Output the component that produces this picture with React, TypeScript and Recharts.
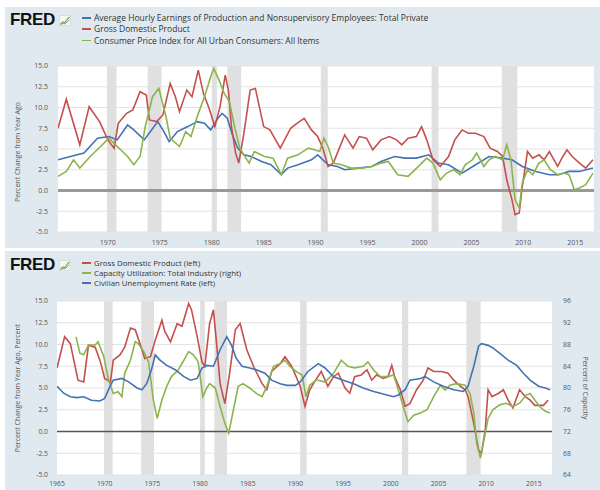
import React from 'react';
import { LineChart, Line, XAxis, YAxis, CartesianGrid, ReferenceArea, ReferenceLine } from 'recharts';

const FONT = '"Open Sans", "DejaVu Sans", sans-serif';

// Recessions (fractional years)
const recessionStart = [1969.92, 1973.83, 1980.0, 1981.5, 1990.5, 2001.17, 2007.92];
const recessionEnd = [1970.83, 1975.17, 1980.5, 1982.83, 1991.17, 2001.83, 2009.42];

const topTicksX = [1970, 1975, 1980, 1985, 1990, 1995, 2000, 2005, 2010, 2015];
const bottomTicksX = [1965, 1970, 1975, 1980, 1985, 1990, 1995, 2000, 2005, 2010, 2015];
const leftTicks = [-5, -2.5, 0, 2.5, 5, 7.5, 10, 12.5, 15];
const rightTicks = [64, 68, 72, 76, 80, 84, 88, 92, 96];

const topLegend = [
  'Average Hourly Earnings of Production and Nonsupervisory Employees: Total Private',
  'Gross Domestic Product',
  'Consumer Price Index for All Urban Consumers: All Items',
];
const bottomLegend = [
  'Gross Domestic Product (left)',
  'Capacity Utilization: Total Industry (right)',
  'Civilian Unemployment Rate (left)',
];

// ---- Top chart: percent change from year ago ----
const topEarnYears = [1965.2, 1966.4, 1967.7, 1969.0, 1970.1, 1970.9, 1971.9, 1972.5, 1973.5, 1974.1, 1974.8, 1975.4, 1975.9, 1976.7, 1977.7, 1978.6, 1979.3, 1979.9, 1980.6, 1981.0, 1981.5, 1982.0, 1982.5, 1983.1, 1983.8, 1984.8, 1985.7, 1986.7, 1987.3, 1988.3, 1989.6, 1990.2, 1991.2, 1992.1, 1992.8, 1994.1, 1995.4, 1996.3, 1997.6, 1998.6, 1999.7, 2000.9, 2001.8, 2002.8, 2004.1, 2005.4, 2006.7, 2008.0, 2008.9, 2009.9, 2011.2, 2012.5, 2013.4, 2014.4, 2015.4, 2016.7];
const topEarnVals = [3.7, 4.1, 4.5, 6.3, 6.5, 6.1, 7.9, 7.3, 6.1, 7.1, 8.3, 7.1, 5.9, 7.1, 7.7, 8.3, 8.1, 7.3, 8.7, 9.3, 8.7, 6.7, 5.1, 4.3, 4.1, 3.5, 3.1, 1.9, 2.7, 3.1, 3.7, 4.3, 3.1, 2.9, 2.5, 2.7, 2.9, 3.5, 4.1, 3.9, 3.9, 4.3, 3.3, 3.1, 2.1, 3.1, 4.1, 3.9, 3.7, 2.9, 2.3, 1.9, 1.9, 2.3, 2.3, 2.7];

const topGdpYears = [1965.2, 1966.0, 1967.3, 1968.2, 1969.2, 1970.0, 1970.6, 1971.0, 1971.8, 1972.4, 1973.1, 1973.7, 1974.0, 1974.7, 1975.3, 1976.0, 1976.5, 1976.9, 1977.6, 1978.1, 1978.7, 1979.2, 1979.8, 1980.3, 1980.8, 1981.3, 1981.6, 1981.9, 1982.3, 1982.6, 1983.1, 1983.7, 1984.2, 1985.0, 1985.6, 1986.6, 1987.6, 1988.2, 1988.9, 1989.6, 1990.2, 1990.7, 1991.2, 1991.7, 1992.8, 1993.6, 1994.2, 1994.9, 1995.5, 1996.3, 1997.1, 1997.8, 1998.3, 1998.9, 1999.7, 2000.2, 2000.7, 2001.3, 2002.0, 2002.8, 2003.4, 2004.1, 2004.7, 2005.4, 2006.2, 2006.8, 2007.5, 2008.0, 2008.4, 2008.9, 2009.2, 2009.6, 2009.9, 2010.4, 2010.9, 2011.5, 2012.0, 2012.5, 2013.3, 2013.8, 2014.2, 2014.7, 2015.4, 2016.0, 2016.7];
const topGdpVals = [7.5, 11.0, 5.5, 10.1, 8.3, 6.1, 5.1, 8.1, 9.3, 9.7, 11.9, 11.5, 8.5, 8.3, 9.1, 12.9, 11.3, 9.5, 12.1, 11.3, 14.5, 11.7, 9.7, 7.7, 10.1, 13.9, 12.1, 7.7, 4.5, 3.3, 6.9, 12.1, 12.3, 7.7, 7.3, 5.1, 7.5, 8.1, 8.7, 7.3, 6.5, 5.1, 2.9, 3.3, 6.7, 5.1, 6.5, 6.3, 4.9, 6.1, 6.5, 6.1, 5.5, 6.3, 6.5, 7.7, 6.1, 3.7, 2.9, 4.1, 6.1, 7.3, 6.9, 6.9, 6.5, 5.1, 4.7, 4.1, 1.3, -1.1, -2.9, -2.7, 0.5, 4.7, 3.9, 4.3, 3.7, 4.7, 2.9, 4.1, 4.9, 4.1, 3.3, 2.7, 3.7];

const topCpiYears = [1965.2, 1966.0, 1966.7, 1967.3, 1968.3, 1969.3, 1970.1, 1970.9, 1971.9, 1972.5, 1973.1, 1973.6, 1974.3, 1974.9, 1975.6, 1976.0, 1976.9, 1977.5, 1978.0, 1978.6, 1979.3, 1979.9, 1980.2, 1980.7, 1981.2, 1981.7, 1982.2, 1982.7, 1983.1, 1983.6, 1984.1, 1985.1, 1985.9, 1986.7, 1987.3, 1988.3, 1989.3, 1989.9, 1990.4, 1990.8, 1991.2, 1991.7, 1992.5, 1993.4, 1994.4, 1995.4, 1996.3, 1997.0, 1997.9, 1998.9, 1999.9, 2000.7, 2001.3, 2002.0, 2002.6, 2003.3, 2003.9, 2004.4, 2005.1, 2005.5, 2006.2, 2006.7, 2007.3, 2008.0, 2008.4, 2008.8, 2009.2, 2009.6, 2009.9, 2010.4, 2010.9, 2011.5, 2012.0, 2012.6, 2013.3, 2013.9, 2014.4, 2014.9, 2015.4, 2016.0, 2016.7];
const topCpiVals = [1.7, 2.3, 3.7, 2.7, 4.1, 5.3, 6.3, 5.3, 4.1, 3.1, 4.1, 7.7, 11.3, 12.3, 8.9, 6.3, 5.3, 7.1, 6.5, 8.9, 11.3, 13.7, 14.7, 13.3, 11.7, 10.7, 7.7, 5.1, 4.3, 3.3, 4.7, 4.1, 3.9, 1.9, 3.9, 4.3, 5.1, 4.9, 4.7, 6.3, 5.3, 3.3, 3.1, 2.7, 2.7, 2.9, 3.3, 3.5, 1.9, 1.7, 2.9, 3.9, 3.3, 1.3, 2.1, 2.5, 1.9, 3.1, 3.7, 4.5, 2.9, 3.7, 4.1, 3.7, 5.5, 3.7, -1.1, -2.1, 0.9, 2.5, 1.9, 3.3, 3.7, 2.5, 1.9, 2.1, 1.9, 0.1, 0.3, 0.7, 2.1];

// ---- Bottom chart ----
const botGdpYears = [1965.0, 1965.8, 1966.4, 1967.2, 1967.8, 1968.3, 1969.0, 1969.5, 1970.0, 1970.6, 1970.9, 1971.6, 1972.1, 1972.7, 1973.2, 1973.7, 1974.2, 1974.8, 1975.3, 1976.0, 1976.3, 1976.9, 1977.6, 1978.1, 1978.8, 1979.1, 1979.7, 1980.2, 1980.5, 1981.0, 1981.4, 1981.7, 1982.1, 1982.6, 1983.1, 1983.7, 1984.2, 1984.9, 1985.6, 1986.5, 1987.0, 1987.5, 1988.4, 1988.9, 1989.6, 1990.5, 1991.0, 1991.5, 1992.0, 1992.7, 1993.4, 1994.0, 1994.5, 1995.2, 1995.7, 1996.2, 1996.9, 1997.5, 1998.0, 1998.5, 1999.2, 1999.7, 2000.1, 2000.4, 2001.0, 2001.5, 2002.0, 2002.7, 2003.4, 2003.9, 2004.5, 2005.3, 2006.0, 2006.6, 2007.3, 2007.8, 2008.1, 2008.7, 2009.2, 2009.5, 2009.9, 2010.2, 2010.6, 2011.3, 2011.8, 2012.3, 2012.8, 2013.5, 2014.1, 2014.6, 2015.1, 2016.0, 2016.5];
const botGdpVals = [7.3, 10.9, 10.1, 5.9, 5.7, 9.9, 9.7, 8.2, 6.1, 5.7, 8.2, 8.8, 9.7, 11.9, 11.7, 10.1, 8.4, 8.6, 10.5, 12.8, 11.5, 10.3, 12.4, 12.1, 14.7, 14.0, 10.9, 8.0, 7.5, 12.4, 14.0, 10.5, 5.5, 3.2, 6.7, 11.7, 12.4, 9.4, 7.5, 5.5, 4.8, 6.9, 7.8, 8.6, 7.5, 5.2, 2.9, 4.8, 5.7, 6.9, 5.2, 6.3, 6.7, 5.0, 4.4, 6.3, 6.5, 7.1, 5.9, 6.5, 6.1, 6.3, 7.6, 6.3, 4.8, 2.9, 3.2, 4.8, 5.9, 7.3, 6.9, 6.9, 6.7, 5.9, 5.2, 4.8, 4.0, 0.9, -2.1, -2.5, 0.2, 4.8, 4.0, 4.4, 4.8, 3.6, 2.7, 4.8, 4.0, 3.6, 3.0, 3.0, 3.6];

const unempYears = [1965.0, 1965.7, 1966.4, 1967.1, 1967.8, 1968.6, 1969.5, 1970.0, 1970.6, 1970.9, 1971.8, 1972.5, 1973.4, 1973.9, 1974.4, 1974.9, 1975.3, 1975.8, 1976.5, 1977.4, 1978.3, 1979.0, 1979.7, 1980.2, 1980.7, 1981.4, 1982.1, 1982.8, 1983.3, 1983.8, 1984.4, 1985.2, 1985.9, 1986.8, 1987.5, 1988.4, 1989.1, 1990.0, 1990.5, 1991.3, 1992.4, 1993.1, 1994.0, 1995.0, 1996.1, 1997.1, 1998.2, 1999.2, 2000.3, 2000.8, 2001.5, 2002.0, 2003.1, 2003.6, 2004.5, 2005.5, 2006.6, 2007.6, 2008.1, 2008.7, 2009.2, 2009.5, 2010.2, 2010.7, 2011.4, 2012.3, 2013.2, 2013.9, 2014.6, 2015.5, 2016.2, 2016.7];
const unempVals = [5.2, 4.4, 4.0, 3.9, 4.0, 3.6, 3.5, 3.8, 5.3, 5.9, 6.1, 5.7, 5.0, 4.8, 5.5, 7.1, 8.8, 8.2, 7.6, 7.1, 6.3, 5.9, 6.1, 7.3, 7.6, 7.5, 9.4, 10.9, 9.9, 8.4, 7.5, 7.3, 7.1, 6.7, 5.9, 5.5, 5.3, 5.3, 5.7, 6.9, 7.8, 7.3, 6.3, 5.9, 5.5, 5.0, 4.6, 4.3, 4.0, 4.2, 4.8, 5.9, 6.1, 6.3, 5.7, 5.2, 4.8, 4.6, 5.2, 7.5, 9.8, 10.1, 9.9, 9.6, 9.0, 8.2, 7.6, 6.7, 5.9, 5.2, 5.0, 4.8];

const capUtilYears = [1967.0, 1967.4, 1967.8, 1968.3, 1969.0, 1969.3, 1969.9, 1970.4, 1970.9, 1971.4, 1971.8, 1972.1, 1972.7, 1973.2, 1973.5, 1974.1, 1974.6, 1975.1, 1975.5, 1976.0, 1976.5, 1977.0, 1977.7, 1978.3, 1978.8, 1979.3, 1979.8, 1980.3, 1980.7, 1981.0, 1981.6, 1982.1, 1982.6, 1983.0, 1983.5, 1984.0, 1984.5, 1985.2, 1985.9, 1986.5, 1987.0, 1987.7, 1988.4, 1988.9, 1989.4, 1990.1, 1990.7, 1991.1, 1991.5, 1992.2, 1993.1, 1994.0, 1994.8, 1995.5, 1996.2, 1997.1, 1997.6, 1998.2, 1998.9, 1999.7, 2000.3, 2000.8, 2001.3, 2001.8, 2002.4, 2003.1, 2003.8, 2004.5, 2005.2, 2005.7, 2006.2, 2006.9, 2007.8, 2008.3, 2008.7, 2009.0, 2009.4, 2009.7, 2010.2, 2010.7, 2011.4, 2012.1, 2012.8, 2013.5, 2014.2, 2014.6, 2015.1, 2015.6, 2016.2, 2016.7];
const capUtilVals = [89.4, 86.4, 86.1, 87.9, 87.9, 88.5, 85.8, 81.5, 79.0, 79.3, 78.4, 82.7, 85.1, 88.5, 88.2, 86.7, 84.8, 77.8, 74.4, 77.8, 80.3, 82.1, 83.3, 85.1, 86.7, 86.1, 84.8, 78.4, 80.0, 80.8, 80.0, 76.6, 73.5, 71.7, 76.0, 80.3, 80.8, 80.0, 79.0, 78.4, 80.3, 84.0, 84.5, 85.1, 84.0, 83.0, 82.4, 78.4, 80.5, 81.5, 81.1, 82.7, 85.1, 84.0, 83.7, 84.0, 84.8, 83.3, 82.1, 82.1, 82.4, 79.6, 76.6, 73.8, 75.0, 75.4, 76.0, 78.4, 80.5, 79.6, 80.5, 80.8, 80.5, 79.0, 75.4, 69.8, 67.1, 69.8, 74.4, 76.0, 76.9, 77.2, 76.6, 77.2, 78.7, 79.0, 77.8, 76.6, 75.7, 75.4];

const BLUE = '#4472b4';
const RED = '#c4504e';
const GREEN = '#8cb44c';
const PANEL = '#e1e9f0';

const toRows = (xs: number[], ys: number[]) => xs.map((x, i) => ({ x, y: ys[i] }));

const tickTop = { fontSize: 7, fill: '#555', fontFamily: FONT };
const tickBottom = { fontSize: 6.8, fill: '#555', fontFamily: FONT };

function Logo({ top }: { top: number }) {
  return (
    <>
      <div style={{ position: 'absolute', left: 10, top, fontFamily: '"Liberation Sans", Arial, sans-serif', fontWeight: 900, fontSize: 17, lineHeight: '17px', color: '#111', letterSpacing: -0.3 }}>FRED</div>
      <svg style={{ position: 'absolute', left: 59, top: top + 4 }} width={12} height={11}>
        <rect x={0.5} y={0.5} width={11} height={10} fill="#f4f7f2" stroke="#c9d6c0" strokeWidth={0.6} />
        <polyline points="1.5,9 4,7 6,7.5 8.5,4 10.5,2" fill="none" stroke="#7fb04a" strokeWidth={1.2} />
        <polyline points="1.5,9.5 4,8.5 6,8.8 8.5,6.5 10.5,5" fill="none" stroke="#5a86b8" strokeWidth={0.8} />
      </svg>
    </>
  );
}

function Legend({ items, colors, tops, size }: { items: string[]; colors: string[]; tops: number[]; size: number }) {
  return (
    <>
      {items.map((t, i) => (
        <React.Fragment key={t}>
          <div style={{ position: 'absolute', left: 82, top: tops[i] - 0.75, width: 9, height: 1.5, background: colors[i] }} />
          <div style={{ position: 'absolute', left: 94, top: tops[i] - 5, fontFamily: FONT, fontSize: size, lineHeight: '10px', color: '#333', whiteSpace: 'nowrap' }}>{t}</div>
        </React.Fragment>
      ))}
    </>
  );
}

function VTitle({ text, cx, cy, deg }: { text: string; cx: number; cy: number; deg: number }) {
  return (
    <div style={{ position: 'absolute', left: cx, top: cy, transform: `translate(-50%, -50%) rotate(${deg}deg)`, fontFamily: FONT, fontSize: 7, color: '#555', whiteSpace: 'nowrap', lineHeight: '9px' }}>{text}</div>
  );
}

export default function App() {
  const fmtLeft = (v: number) => v.toFixed(1);
  return (
    <div style={{ position: 'absolute', left: 0, top: 0, width: 600, height: 490, background: '#fff', overflow: 'hidden' }}>
      <div style={{ position: 'absolute', left: 5, top: 7, width: 595, height: 241, background: PANEL }} />
      <div style={{ position: 'absolute', left: 5, top: 251, width: 595, height: 239, background: PANEL }} />

      <Logo top={11} />
      <Legend items={topLegend} colors={[BLUE, RED, GREEN]} tops={[18, 29, 40.5]} size={8.5} />
      <VTitle text="Percent Change from Year Ago" cx={17} cy={152} deg={-90} />

      <div style={{ position: 'absolute', left: 0, top: 0 }}>
        <LineChart width={600} height={250} margin={{ top: 66, right: 6, bottom: 0, left: 0 }}>
          <CartesianGrid horizontal vertical={false} stroke="#e3e3e3" fill="#ffffff" />
          <XAxis dataKey="x" type="number" domain={[1965.2, 2016.8]} allowDataOverflow ticks={topTicksX} height={18}
            axisLine={false} tickLine={false} tickSize={5} tickMargin={3} tick={tickTop} interval={0} />
          <YAxis type="number" domain={[-5, 15]} allowDataOverflow ticks={leftTicks} width={58} tickFormatter={fmtLeft}
            axisLine={false} tickLine={false} tickSize={6} tickMargin={4} tick={tickTop} interval={0} />
          {recessionStart.map((s, i) => (
            <ReferenceArea key={s} x1={s} x2={recessionEnd[i]} fill="#e0e0e0" fillOpacity={1} stroke="none" ifOverflow="hidden" />
          ))}
          <ReferenceLine y={0} stroke="#999" strokeWidth={3} />
          <Line data={toRows(topEarnYears, topEarnVals)} dataKey="y" stroke={BLUE} strokeWidth={1.6} dot={false} isAnimationActive={false} type="linear" />
          <Line data={toRows(topGdpYears, topGdpVals)} dataKey="y" stroke={RED} strokeWidth={1.6} dot={false} isAnimationActive={false} type="linear" />
          <Line data={toRows(topCpiYears, topCpiVals)} dataKey="y" stroke={GREEN} strokeWidth={1.6} dot={false} isAnimationActive={false} type="linear" />
        </LineChart>
      </div>

      <Logo top={256} />
      <Legend items={bottomLegend} colors={[RED, GREEN, BLUE]} tops={[263, 273, 283]} size={7.8} />
      <VTitle text="Percent Change from Year Ago, Percent" cx={17} cy={388} deg={-90} />
      <VTitle text="Percent of Capacity" cx={585} cy={388} deg={90} />

      <div style={{ position: 'absolute', left: 0, top: 250 }}>
        <LineChart width={600} height={240} margin={{ top: 51, right: 0, bottom: 0, left: 0 }}>
          <CartesianGrid horizontal vertical={false} stroke="#e3e3e3" fill="#ffffff" yAxisId="left" />
          <XAxis dataKey="x" type="number" domain={[1965.0, 2016.9]} allowDataOverflow ticks={bottomTicksX} height={15}
            axisLine={false} tickLine={false} tickSize={4} tickMargin={2} tick={tickBottom} interval={0} />
          <YAxis yAxisId="left" type="number" domain={[-5, 15]} allowDataOverflow ticks={leftTicks} width={57} tickFormatter={fmtLeft}
            axisLine={false} tickLine={false} tickSize={5} tickMargin={4} tick={tickBottom} interval={0} />
          <YAxis yAxisId="right" orientation="right" type="number" domain={[64, 96]} allowDataOverflow ticks={rightTicks} width={48}
            axisLine={false} tickLine={false} tickSize={6} tickMargin={5} tick={tickBottom} interval={0} />
          {recessionStart.map((s, i) => (
            <ReferenceArea key={s} yAxisId="left" x1={s} x2={recessionEnd[i]} fill="#e0e0e0" fillOpacity={1} stroke="none" ifOverflow="hidden" />
          ))}
          <ReferenceLine yAxisId="left" y={0} stroke="#555" strokeWidth={1.5} />
          <Line yAxisId="left" data={toRows(botGdpYears, botGdpVals)} dataKey="y" stroke={RED} strokeWidth={1.6} dot={false} isAnimationActive={false} type="linear" />
          <Line yAxisId="right" data={toRows(capUtilYears, capUtilVals)} dataKey="y" stroke={GREEN} strokeWidth={1.6} dot={false} isAnimationActive={false} type="linear" />
          <Line yAxisId="left" data={toRows(unempYears, unempVals)} dataKey="y" stroke={BLUE} strokeWidth={1.6} dot={false} isAnimationActive={false} type="linear" />
        </LineChart>
      </div>
    </div>
  );
}
